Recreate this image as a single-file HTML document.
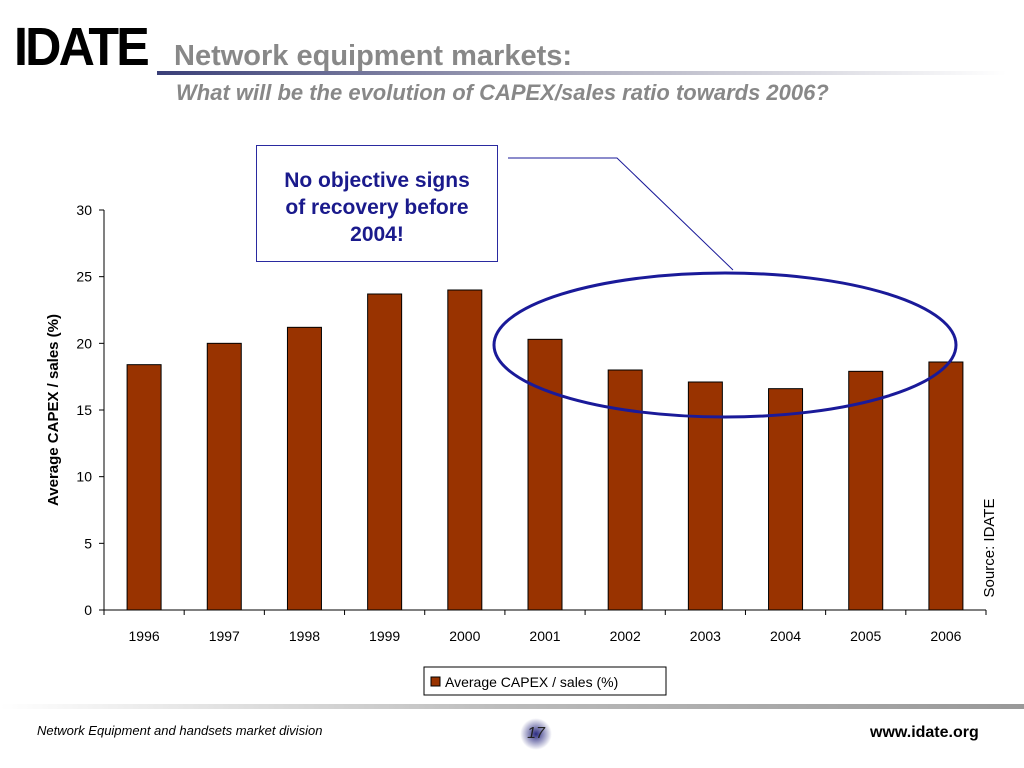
<!DOCTYPE html>
<html><head><meta charset="utf-8"><style>
body{margin:0;width:1024px;height:768px;background:#fff;position:relative;overflow:hidden;font-family:"Liberation Sans",sans-serif}
.a{position:absolute}
</style></head><body>
<div class="a" style="left:14px;top:16px;font-size:54px;font-weight:bold;letter-spacing:-3px;transform:scaleX(0.93);transform-origin:left;color:#000">IDATE</div>
<div class="a" style="left:174px;top:40px;font-size:29px;font-weight:bold;color:#888">Network equipment markets:</div>
<div class="a" style="left:157px;top:71px;width:850px;height:4px;background:linear-gradient(90deg,#3a3f78,#b0b0c0 50%,#fff)"></div>
<div class="a" style="left:176px;top:80px;font-size:22px;font-weight:bold;font-style:italic;color:#888">What will be the evolution of CAPEX/sales ratio towards 2006?</div>
<svg class="a" style="left:0;top:0" width="1024" height="768" id="chart"></svg>
<div class="a" style="left:256px;top:145px;width:242px;height:117px;border:1px solid #2a2aa0;background:#fff;color:#1a1a8c;font-weight:bold;font-size:21px;text-align:center;line-height:27px;box-sizing:border-box;padding:21px 18px 0">No objective signs of recovery before 2004!</div>
<div class="a" style="left:0;top:704px;width:1024px;height:5px;background:linear-gradient(90deg,#fff,#bbb 50%,#999)"></div>
<div class="a" style="left:37px;top:723px;font-size:13px;font-style:italic">Network Equipment and handsets market division</div>
<div class="a" style="left:520px;top:718px;width:32px;height:32px;border-radius:50%;background:radial-gradient(#2a2a80,rgba(60,60,160,0) 70%);font-size:16px;font-style:italic;text-align:center;line-height:32px;color:#222">17</div>
<div class="a" style="left:870px;top:724px;font-size:16px;font-weight:bold">www.idate.org</div>
<script>
const years=["1996","1997","1998","1999","2000","2001","2002","2003","2004","2005","2006"];
const values=[18.4,20.0,21.2,23.7,24.0,20.3,18.0,17.1,16.6,17.9,18.6];
const ticks=[0,5,10,15,20,25,30];
const ns="http://www.w3.org/2000/svg",svg=document.getElementById('chart');
const x0=104,x1=986,yb=610,yt=210;
const y=v=>yb-(v/30)*(yb-yt);
const step=(x1-x0)/years.length;
const xc=i=>x0+step*(i+0.5);
function mk(t,a,p){const e=document.createElementNS(ns,t);for(const k in a)e.setAttribute(k,a[k]);(p||svg).appendChild(e);return e;}
let e;
e=mk('line',{x1:x0,y1:yt,x2:x0,y2:yb,stroke:'#000'});


e=mk('line',{x1:x0,y1:yb,x2:x1,y2:yb,stroke:'#000'});


ticks.forEach(t=>{mk('line',{x1:x0-5,x2:x0,y1:y(t),y2:y(t),stroke:'#000'});
e=mk('text',{x:x0-12,y:y(t)+5,'text-anchor':'end','font-size':14});e.textContent=t;

});
for(let i=0;i<=years.length;i++)mk('line',{x1:x0+step*i,x2:x0+step*i,y1:yb,y2:yb+5,stroke:'#000'});
years.forEach((yr,i)=>{
e=mk('rect',{x:xc(i)-17,y:y(values[i]),width:34,height:yb-y(values[i]),fill:'#993300',stroke:'#000'});


e=mk('text',{x:xc(i),y:641,'text-anchor':'middle','font-size':14});e.textContent=yr;

});
e=mk('text',{transform:'translate(58,410) rotate(-90)','text-anchor':'middle','font-size':15,'font-weight':'bold'});e.textContent='Average CAPEX / sales (%)';


e=mk('text',{transform:'translate(994,548) rotate(-90)','text-anchor':'middle','font-size':15});e.textContent='Source: IDATE';


e=mk('rect',{x:424,y:667,width:242,height:28,fill:'#fff',stroke:'#000'});


mk('rect',{x:431,y:677,width:9,height:9,fill:'#993300',stroke:'#000'});
e=mk('text',{x:445,y:687,'font-size':14});e.textContent='Average CAPEX / sales (%)';


e=mk('ellipse',{cx:725,cy:345,rx:231,ry:72,fill:'none',stroke:'#1a1a99','stroke-width':3});


e=mk('polyline',{points:'508,158 617,158 733,270',fill:'none',stroke:'#1a1a99','stroke-width':1});


</script>
</body></html>
